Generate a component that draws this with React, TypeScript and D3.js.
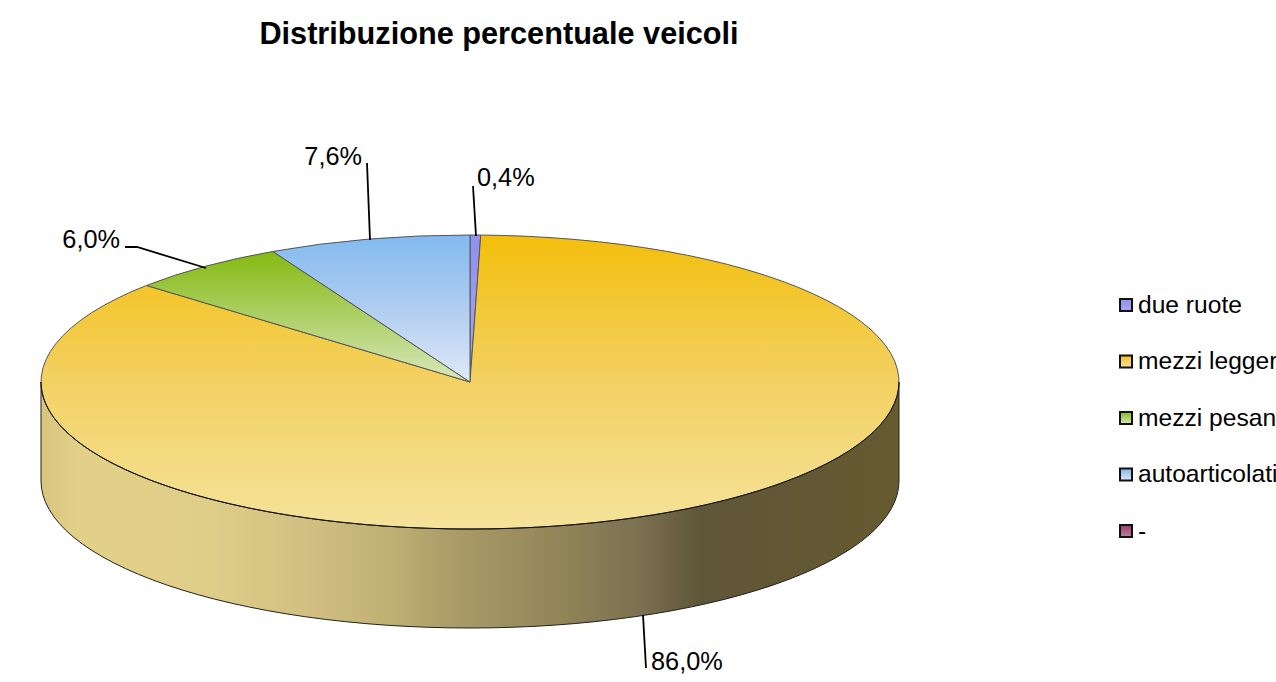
import React from "react";
import * as d3 from "d3";

const categories = ["due ruote", "mezzi leggeri", "mezzi pesanti", "autoarticolati", "-"];
const shares = [0.4, 86.0, 6.0, 7.6, 0];
const labels = ["0,4%", "86,0%", "6,0%", "7,6%", ""];
const topColors = ["#9090ee", "#f3bf0c", "#84ba10", "#82baf0", "#953d6c"];
const midColors = ["#9c9cf0", "#f3d163", "#aed067", "#b0cdf0", "#aa5c86"];
const bottomColors = ["#a8a8f2", "#f5e39b", "#d8e8bc", "#e0eaf8", "#c080a0"];

const width = 1276;
const height = 682;
const cx = 470;
const cy = 382;
const rx = 429;
const ry = 147;
const depth = 99;

const pie = d3.pie<number>().value((d) => d).sort(null);
const arc = d3.arc<d3.PieArcDatum<number>>().innerRadius(0).outerRadius(rx);
const slices = pie(shares);

// legend rows
const legendY = d3.scalePoint<string>().domain(categories).range([305, 531]);

// leader lines per label: from, optional elbow, to, then the text anchor point
const leaders: Record<string, { line: [number, number][]; tx: number; ty: number; anchor: string }> = {
  "0,4%": { line: [[473, 186], [476, 236]], tx: 477, ty: 186, anchor: "start" },
  "7,6%": { line: [[367, 163], [370, 240]], tx: 362, ty: 165, anchor: "end" },
  "6,0%": { line: [[125, 247], [137, 247], [206, 268]], tx: 120, ty: 248, anchor: "end" },
  "86,0%": { line: [[643, 615], [646, 668]], tx: 651, ty: 670, anchor: "start" },
};

const line = d3.line();

const sideStops: [number, string][] = [
  [0, "#d8c47c"],
  [0.04, "#e3d088"],
  [0.2, "#dfce88"],
  [0.336, "#cdbc7e"],
  [0.414, "#bdae72"],
  [0.47, "#ad9e69"],
  [0.604, "#918559"],
  [0.697, "#7c7150"],
  [0.767, "#5f5638"],
  [1, "#665a30"],
];

export default function App() {
  const side = `M${cx - rx},${cy} A${rx},${ry} 0 0 0 ${cx + rx},${cy} L${cx + rx},${cy + depth} A${rx},${ry} 0 0 1 ${cx - rx},${cy + depth} Z`;
  const rim = `M${cx - rx},${cy} A${rx},${ry} 0 0 0 ${cx + rx},${cy}`;
  return (
    <svg
      width={width}
      height={height}
      style={{ position: "absolute", left: 0, top: 0, fontFamily: "'Liberation Sans', Arial, sans-serif" }}
    >
      <defs>
        {categories.map((c, i) => (
          <linearGradient key={c} id={`top${i}`} x1="0" y1="0" x2="0" y2="1">
            <stop offset="0" stopColor={topColors[i]} />
            <stop offset="0.5" stopColor={midColors[i]} />
            <stop offset="1" stopColor={bottomColors[i]} />
          </linearGradient>
        ))}
        <linearGradient id="side" gradientUnits="userSpaceOnUse" x1={cx - rx} y1="0" x2={cx + rx} y2="0">
          {sideStops.map(([o, c]) => (
            <stop key={o} offset={o} stopColor={c} />
          ))}
        </linearGradient>
      </defs>

      <text x={499} y={44} textAnchor="middle" fontSize={30.7} fontWeight="bold" fill="#000">
        Distribuzione percentuale veicoli
      </text>

      <path d={side} fill="url(#side)" stroke="#222" strokeWidth={1} />

      <g transform={`translate(${cx},${cy}) scale(1,${ry / rx})`}>
        {slices.map((s, i) =>
          s.value > 0 ? (
            <path
              key={categories[i]}
              d={arc(s) ?? ""}
              fill={`url(#top${i})`}
              stroke="#555"
              strokeWidth={1}
              vectorEffect="non-scaling-stroke"
            />
          ) : null
        )}
      </g>
      <path d={rim} fill="none" stroke="#111" strokeWidth={1} />

      {labels.filter((l) => l).map((l) => {
        const a = leaders[l];
        return (
          <g key={l}>
            <path d={line(a.line) ?? ""} fill="none" stroke="#000" strokeWidth={1.8} />
            <text x={a.tx} y={a.ty} textAnchor={a.anchor as "start" | "end"} fontSize={25.3} fill="#000">
              {l}
            </text>
          </g>
        );
      })}

      {categories.map((c, i) => {
        const y = legendY(c) ?? 0;
        return (
          <g key={c}>
            <rect x={1120} y={y - 6} width={12} height={12} fill={`url(#top${i})`} stroke="#111" strokeWidth={2} />
            <text x={1138} y={y + 7.5} fontSize={24.6} fill="#000">
              {c}
            </text>
          </g>
        );
      })}
    </svg>
  );
}
